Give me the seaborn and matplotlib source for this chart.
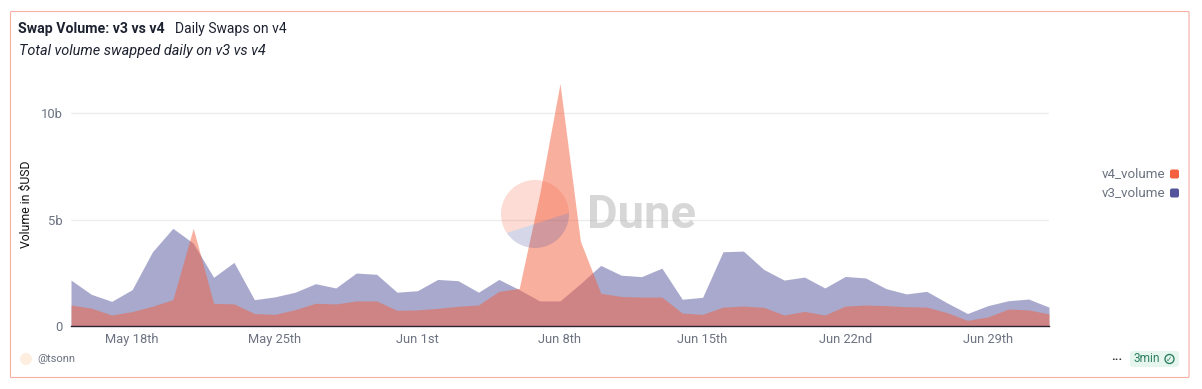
import numpy as np
import pandas as pd
import matplotlib.pyplot as plt
import seaborn as sns
from matplotlib.patches import Polygon, Circle, FancyBboxPatch
from matplotlib.transforms import IdentityTransform

v3_volume = [2.17, 1.5, 1.17, 1.72, 3.5, 4.6, 3.9, 2.3, 3.0, 1.25, 1.38, 1.6, 2.0, 1.8, 2.5, 2.44, 1.6,
             1.67, 2.2, 2.14, 1.6, 2.2, 1.72, 1.19, 1.19, 2.0, 2.86, 2.4, 2.33, 2.73, 1.27, 1.36, 3.5,
             3.53, 2.67, 2.17, 2.31, 1.8, 2.34, 2.27, 1.77, 1.52, 1.64, 1.1, 0.6, 0.97, 1.2, 1.28, 0.9]
v4_volume = [1.0, 0.85, 0.53, 0.69, 0.94, 1.25, 4.6, 1.08, 1.05, 0.6, 0.56, 0.78, 1.08, 1.05, 1.19, 1.19, 0.75,
             0.77, 0.84, 0.94, 1.0, 1.64, 1.78, 6.2, 11.4, 4.0, 1.55, 1.4, 1.37, 1.37, 0.62, 0.56, 0.9,
             0.95, 0.89, 0.53, 0.7, 0.53, 0.95, 1.0, 0.97, 0.92, 0.9, 0.64, 0.28, 0.44, 0.81, 0.77, 0.58]
tick_dates = ['2025-05-18', '2025-05-25', '2025-06-01', '2025-06-08', '2025-06-15', '2025-06-22', '2025-06-29']
tick_labels = ['May 18th', 'May 25th', 'Jun 1st', 'Jun 8th', 'Jun 15th', 'Jun 22nd', 'Jun 29th']
y_ticks = [0, 5, 10]
y_labels = ['0', '5b', '10b']

W, H = 1202, 389
ORANGE = '#f4603e'
PURPLE = '#53549b'
GRAY = '#6b7280'

sns.set_style('white')
plt.rcParams['font.family'] = ['Roboto', 'DejaVu Sans']

df = pd.DataFrame({'day': pd.date_range('2025-05-15', periods=len(v3_volume)),
                   'v3_volume': v3_volume, 'v4_volume': v4_volume})

fig = plt.figure(figsize=(W / 100, H / 100), dpi=100)
# axes box in pixels: x 71-1049, baseline at 326.3, 21.3 px per billion
top = 326.3 - 12 * 21.3
ax = fig.add_axes([71 / W, 1 - 326.3 / H, 978 / W, (326.3 - top) / H])

sns.lineplot(data=df, x='day', y='v3_volume', ax=ax, color=PURPLE, linewidth=0)
sns.lineplot(data=df, x='day', y='v4_volume', ax=ax, color=ORANGE, linewidth=0)
ax.fill_between(df['day'], df['v3_volume'], color=PURPLE, alpha=0.5, linewidth=0, zorder=2)
ax.fill_between(df['day'], df['v4_volume'], color=ORANGE, alpha=0.5, linewidth=0, zorder=3)

ax.set_xlim(df['day'].iloc[0], df['day'].iloc[-1])
ax.set_ylim(0, 12)
ax.set_xlabel('')
ax.set_ylabel('')
ax.set_yticks(y_ticks)
ax.set_yticklabels(y_labels, color=GRAY, fontsize=9.4)
ax.set_xticks(pd.to_datetime(tick_dates))
ax.set_xticklabels(tick_labels, color=GRAY, fontsize=9.3)
ax.tick_params(axis='y', length=0, pad=6)
ax.tick_params(axis='x', length=0, pad=5)
ax.yaxis.grid(True, color='#ececec', linewidth=1)
ax.set_axisbelow(True)
for s in ['top', 'left', 'right']:
    ax.spines[s].set_visible(False)
ax.spines['bottom'].set_color('#2a2433')
ax.spines['bottom'].set_linewidth(1)
ax.spines['bottom'].set_zorder(5)
ax.patch.set_alpha(0)


def px(x, y):
    return x / W, 1 - y / H


# card border
fig.add_artist(FancyBboxPatch((10.5, H - 377.5), 1178.5, 366, boxstyle='round,pad=0,rounding_size=1',
                              transform=IdentityTransform(), fc='none', ec='#f5b0a2', lw=0.8))

# titles
fig.text(*px(18, 29.5), 'Swap Volume: v3 vs v4', fontsize=10.2, fontweight='bold', color='#1d2230', va='center')
fig.text(*px(175, 29.5), 'Daily Swaps on v4', fontsize=10, color='#1d2230', va='center')
fig.text(*px(19, 50.5), 'Total volume swapped daily on v3 vs v4', fontsize=10.45, style='italic', color='#1d2230', va='center')
fig.text(*px(26.5, 204), 'Volume in $USD', fontsize=8.8, rotation=90, color='#111111', ha='center', va='center')

# watermark
cx, cy, r = 535, H - 214, 34
a = np.radians(np.linspace(2, 214, 60))
b = np.radians(np.linspace(214, 362, 60))
fig.add_artist(Polygon(np.c_[cx + r * np.cos(a), cy + r * np.sin(a)], transform=IdentityTransform(),
                       fc=ORANGE, alpha=0.22, lw=0, zorder=6))
fig.add_artist(Polygon(np.c_[cx + r * np.cos(b), cy + r * np.sin(b)], transform=IdentityTransform(),
                       fc=PURPLE, alpha=0.24, lw=0, zorder=6))
fig.text(*px(587, 215), 'Dune', fontsize=34, fontweight='bold', color='#a8a8a8', alpha=0.45, va='center', zorder=6)

# legend
for y, name, c in [(174, 'v4_volume', ORANGE), (193, 'v3_volume', PURPLE)]:
    fig.text(*px(1165, y), name, fontsize=9.6, color=GRAY, ha='right', va='center')
    fig.add_artist(FancyBboxPatch((1170, H - y - 4.5), 9, 9, boxstyle='round,pad=0,rounding_size=2',
                                  transform=IdentityTransform(), fc=c, ec='none'))

# footer
fig.add_artist(Circle((26, H - 359), 6, transform=IdentityTransform(), fc='#fdeee0', ec='none'))
fig.text(*px(37, 359), '@tsonn', fontsize=8, color=GRAY, va='center')
fig.text(*px(1117, 359), '•••', fontsize=4.5, color='#222222', ha='center', va='center', family='DejaVu Sans')
fig.add_artist(FancyBboxPatch((1130, H - 367), 49, 16, boxstyle='round,pad=0,rounding_size=3',
                              transform=IdentityTransform(), fc='#e6f6ee', ec='none'))
fig.text(*px(1134, 359), '3min', fontsize=8.6, color='#2f8062', va='center')
fig.add_artist(Circle((1169.5, H - 359), 4.5, transform=IdentityTransform(), fc='none', ec='#2f8062', lw=1))
fig.text(*px(1169.5, 359), '✓', fontsize=5.5, color='#2f8062', ha='center', va='center', family='DejaVu Sans')

fig.savefig('out.png', dpi=100)
